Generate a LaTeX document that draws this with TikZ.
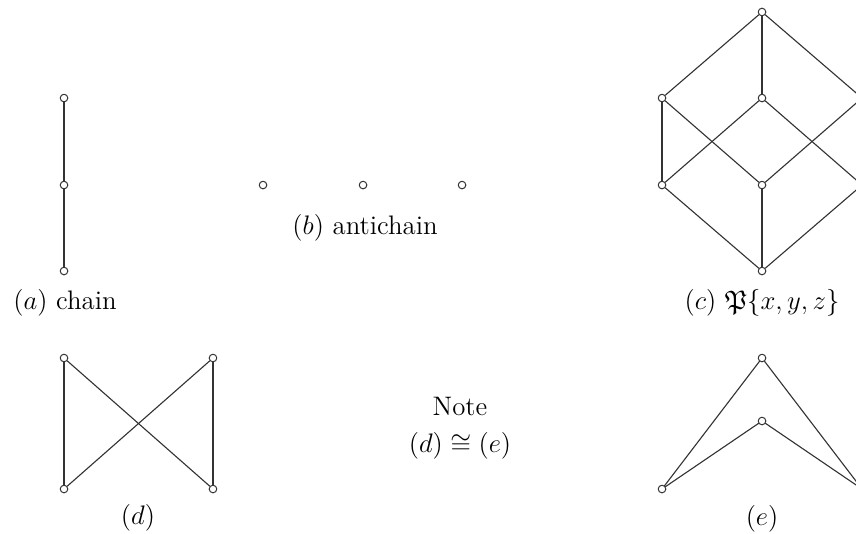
\documentclass[tikz,border=0pt]{standalone}
\usepackage{amssymb}
\begin{document}
\begin{tikzpicture}[line join=round, line cap=round,
		vtx/.style={circle, draw=black!80, fill=white, inner sep=0pt, minimum size=3.4pt, line width=0.45pt},
		edge/.style={black!80, line width=0.5pt},
		lbl/.style={inner sep=0.5pt, font=\fontsize{12}{14}\selectfont}]
				\useasboundingbox (0,0) rectangle (13.48,8.394);
				% 1. chain, antichain
				\node[vtx] (a1) at (1.008, 4.126) {};
				\node[vtx] (a2) at (1.008, 5.480) {};
				\node[vtx] (a3) at (1.008, 6.850) {};
				\node[vtx] (b1) at (4.142, 5.480) {};
				\node[vtx] (b2) at (5.717, 5.480) {};
				\node[vtx] (b3) at (7.276, 5.480) {};
				% 2. the cube
				\node[vtx] (c0) at (12.0, 4.126) {};
				\node[vtx] (cx) at (10.425, 5.480) {};
				\node[vtx] (cy) at (12.0, 5.480) {};
				\node[vtx] (cz) at (13.575, 5.480) {};
				\node[vtx] (cxy) at (10.425, 6.850) {};
				\node[vtx] (cxz) at (12.0, 6.850) {};
				\node[vtx] (cyz) at (13.575, 6.850) {};
				\node[vtx] (cxyz) at (12.0, 8.205) {};
				% 3. (d) and (e)
				\node[vtx] (d1) at (1.008, 0.693) {};
				\node[vtx] (d2) at (3.354, 0.693) {};
				\node[vtx] (d3) at (1.008, 2.756) {};
				\node[vtx] (d4) at (3.354, 2.756) {};
				\node[vtx] (e1) at (10.425, 0.693) {};
				\node[vtx] (e2) at (13.575, 0.693) {};
				\node[vtx] (e3) at (12.0, 1.764) {};
				\node[vtx] (e4) at (12.0, 2.756) {};
				\foreach \u/\v in {a1/a2, a2/a3, c0/cx, c0/cy, c0/cz, cx/cxy, cx/cxz, cy/cxy, cy/cyz, cz/cxz, cz/cyz, cxy/cxyz, cxz/cxyz, cyz/cxyz, d1/d3, d2/d4, d1/d4, d2/d3, e1/e3, e1/e4, e2/e3, e2/e4} {
					\draw[edge] (\u) -- (\v);
				}
				\node[lbl] (la) at (1.024, 3.622) {$(a)$ chain};
				\node[lbl] (lb) at (5.748, 4.803) {$(b)$ antichain};
				\node[lbl] (lc) at (12.0, 3.622) {$(c)$ $\mathfrak{P}\{x,y,z\}$};
				\node[lbl] (ld) at (2.173, 0.245) {$(d)$};
				\node[lbl, align=center, font=\fontsize{12}{16.5}\selectfont] (note) at (7.244, 1.654) {Note\\$(d)\cong(e)$};
				\node[lbl] (le) at (12.0, 0.225) {$(e)$};
			\end{tikzpicture}
\end{document}
